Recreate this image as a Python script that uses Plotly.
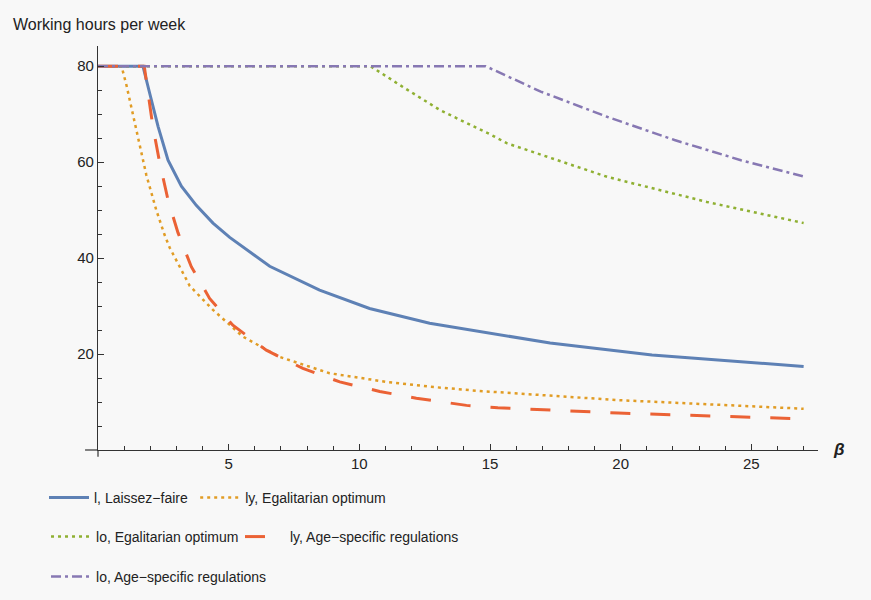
import plotly.graph_objects as go

# ---- data ----
beta_laissez = [0, 1.72, 1.98, 2.3, 2.68, 3.19, 3.76, 4.4, 5.04, 6.57, 8.48, 10.39, 12.69, 14.6, 17.3, 21.2, 27]
l_laissez = [80, 80, 74.3, 67.4, 60.4, 55.0, 51.0, 47.3, 44.3, 38.3, 33.3, 29.5, 26.4, 24.7, 22.3, 19.8, 17.4]

beta_ly_egal = [0, 0.9, 1.09, 1.34, 1.6, 1.85, 2.23, 2.55, 2.74, 3.51, 4.4, 5.55, 6.95, 8.86, 11.03, 12.69, 14.6, 19.9, 27]
ly_egal = [80, 80, 76, 70, 63.5, 57.3, 50, 44.8, 42.2, 34.2, 29.2, 23.6, 19.4, 16.0, 14.2, 13.2, 12.3, 10.4, 8.6]

beta_lo_egal = [0, 10.42, 11.83, 13.1, 15.0, 15.66, 19.5, 23.3, 27]
lo_egal = [80, 80, 75.1, 70.8, 65.8, 63.9, 56.9, 51.7, 47.3]

beta_ly_age = [0, 1.77, 2.1, 2.36, 2.68, 3.06, 3.57, 4.27, 5.16, 6.44, 7.84, 9.25, 10.78, 12.18, 14.1, 15.3, 19.9, 26, 27]
ly_age = [80, 80, 67.4, 59.9, 52.1, 45.3, 38.2, 31.6, 26.0, 20.8, 17.0, 14.2, 12.2, 10.8, 9.3, 8.8, 7.7, 6.6, 6.5]

beta_lo_age = [0, 14.83, 16.94, 19.5, 22.06, 24.6, 27]
lo_age = [80, 80, 74.7, 69.4, 64.6, 60.4, 57]

names = ["l, Laissez\u2212faire", "ly, Egalitarian optimum", "lo, Egalitarian optimum",
         "ly, Age\u2212specific regulations", "lo, Age\u2212specific regulations"]
x_ticks = [5, 10, 15, 20, 25]
y_ticks = [20, 40, 60, 80]

BG = "#f8f8f8"
AX = "#333333"

fig = go.Figure()
fig.add_trace(go.Scatter(x=beta_laissez, y=l_laissez, mode="lines", name=names[0],
                         line=dict(color="#5E81B5", width=3), legend="legend"))
fig.add_trace(go.Scatter(x=beta_ly_egal, y=ly_egal, mode="lines", name=names[1],
                         line=dict(color="#E19C24", width=2.5, dash="3px,4px"), legend="legend2"))
fig.add_trace(go.Scatter(x=beta_lo_egal, y=lo_egal, mode="lines", name=names[2],
                         line=dict(color="#8FB032", width=2.5, dash="3px,4px"), legend="legend3"))
fig.add_trace(go.Scatter(x=beta_ly_age, y=ly_age, mode="lines", name=names[3],
                         line=dict(color="#EB6235", width=3, dash="20px,20px"), legend="legend4"))
fig.add_trace(go.Scatter(x=beta_lo_age, y=lo_age, mode="lines", name=names[4],
                         line=dict(color="#8778B3", width=2.5, dash="10px,4px,3px,4px"), legend="legend5"))

legfont = dict(family="Liberation Sans, Arial", size=14, color="#222")
common_leg = dict(orientation="h", xanchor="left", yanchor="middle", bgcolor="rgba(0,0,0,0)",
                  font=legfont, itemwidth=40)

row1, row2, row3 = -0.1188, -0.2153, -0.3144

fig.update_layout(
    width=871, height=600,
    paper_bgcolor=BG, plot_bgcolor=BG,
    margin=dict(l=98, r=53, t=46, b=150, autoexpand=False),
    font=dict(family="Liberation Sans, Arial", size=15, color="#222"),
    xaxis=dict(range=[0, 27.55], showgrid=False, zeroline=False,
               showline=True, linecolor=AX, linewidth=1.2,
               tickvals=x_ticks, ticks="inside", ticklen=6, tickcolor=AX, tickwidth=1,
               minor=dict(dtick=1, ticks="inside", ticklen=4, tickcolor=AX, showgrid=False),
               tickfont=dict(size=15)),
    yaxis=dict(range=[0, 84.2], showgrid=False, zeroline=False,
               showline=True, linecolor=AX, linewidth=1.2,
               tickvals=y_ticks, ticks="inside", ticklen=6, tickcolor=AX, tickwidth=1,
               minor=dict(dtick=5, ticks="inside", ticklen=4, tickcolor=AX, showgrid=False),
               tickfont=dict(size=15)),
    legend=dict(x=-0.0750, y=row1, **common_leg),
    legend2=dict(x=0.1350, y=row1, **common_leg),
    legend3=dict(x=-0.0722, y=row2, **common_leg),
    legend4=dict(x=0.1972, y=row2, **common_leg),
    legend5=dict(x=-0.0722, y=row3, **common_leg),
    showlegend=True,
    annotations=[
        dict(text="Working hours per week", xref="paper", yref="paper",
             x=-0.1208, y=1.052, xanchor="left", yanchor="middle", showarrow=False,
             font=dict(size=16, color="#222")),
        dict(text="<b><i>\u03b2</i></b>", xref="paper", yref="paper",
             x=1.018, y=0.002, xanchor="left", yanchor="middle", showarrow=False,
             font=dict(size=17, color="#222")),
    ],
    shapes=[
        dict(type="line", xref="paper", yref="paper", x0=-0.018, x1=0, y0=0, y1=0,
             line=dict(color=AX, width=1.2)),
        dict(type="line", xref="paper", yref="paper", x0=0, x1=0, y0=-0.017, y1=0,
             line=dict(color=AX, width=1.2)),
    ],
)

fig.write_html(
    "out.html",
    config={"displayModeBar": False},
    post_script="document.body.style.margin='0px';document.body.style.overflow='hidden';",
)
